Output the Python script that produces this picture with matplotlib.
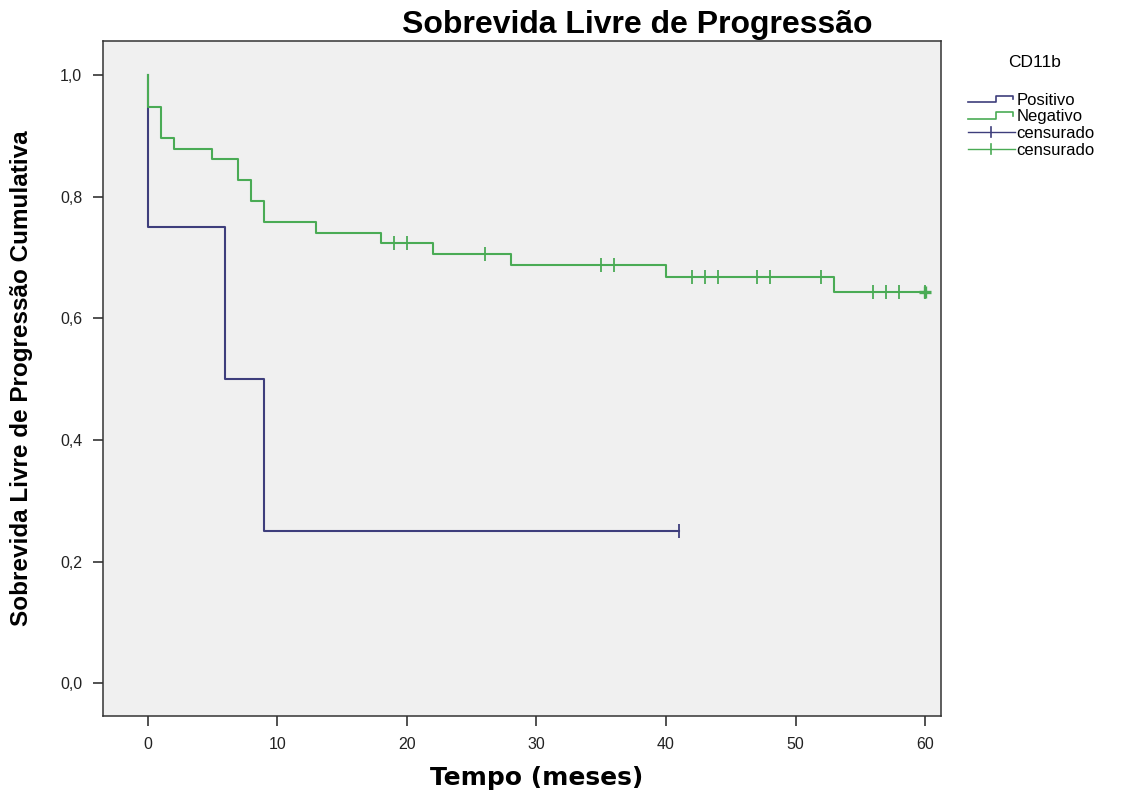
# -*- coding: utf-8 -*-
"""Kaplan-Meier curves of progression-free survival by CD11b status."""
import os
import matplotlib
matplotlib.use('Agg')
import matplotlib.pyplot as plt
from matplotlib import font_manager as fm
from matplotlib.lines import Line2D
from matplotlib.legend_handler import HandlerBase

# CD11b positive group: event times (months) and survival after each event
pos_times = [0, 6, 9]
pos_surv = [0.75, 0.50, 0.25]
pos_censored = [41]

# CD11b negative group
neg_times = [0, 1, 2, 5, 7, 8, 9, 13, 18, 22, 28, 40, 53]
neg_surv = [0.948, 0.897, 0.879, 0.862, 0.828, 0.793, 0.759, 0.741,
            0.724, 0.706, 0.688, 0.668, 0.644]
neg_censored = [19, 20, 26, 35, 36, 42, 43, 44, 47, 48, 52, 56, 57, 58, 60]

x_ticks = [0, 10, 20, 30, 40, 50, 60]
y_ticks = [0.0, 0.2, 0.4, 0.6, 0.8, 1.0]
y_tick_labels = ['0,0', '0,2', '0,4', '0,6', '0,8', '1,0']

group_labels = ['Positivo', 'Negativo']
censor_label = 'censurado'

POS_COLOR = '#3e3e7c'
NEG_COLOR = '#4aab55'


def font(file_name, size):
    """FontProperties from an installed font file, DejaVu if it is missing."""
    for f in fm.fontManager.ttflist:
        if os.path.basename(f.fname) == file_name:
            return fm.FontProperties(fname=f.fname, size=size)
    return fm.FontProperties(family='DejaVu Sans', size=size)


def surv_at(t, times, surv):
    """Value of the step function at time t."""
    s = 1.0
    for ti, si in zip(times, surv):
        if ti <= t:
            s = si
    return s


def step_xy(times, surv, t_end):
    xs = [0.0] + list(times) + [t_end]
    ys = [1.0] + list(surv) + [surv[-1]]
    return xs, ys


class StepHandler(HandlerBase):
    """Small step-shaped glyph for the legend."""
    def create_artists(self, legend, orig_handle, xdescent, ydescent,
                       width, height, fontsize, trans):
        x0, x1 = -xdescent, -xdescent + width
        lo, hi = -ydescent + 0.22 * height, -ydescent + 0.78 * height
        xm = x0 + 0.6 * width
        xs = [x0, xm, xm, x1 - 1, x1 - 1]
        ys = [lo, lo, hi, hi, hi - 0.3 * height]
        ln = Line2D(xs, ys, color=orig_handle.get_color(), lw=1.2,
                    transform=trans)
        return [ln]


class CensorHandler(HandlerBase):
    """Horizontal line with a vertical tick in the middle."""
    def create_artists(self, legend, orig_handle, xdescent, ydescent,
                       width, height, fontsize, trans):
        x0, x1 = -xdescent, -xdescent + width
        ym = -ydescent + 0.5 * height
        xm = x0 + 0.5 * width
        h = Line2D([x0, x1], [ym, ym], color=orig_handle.get_color(),
                   lw=1.0, transform=trans)
        v = Line2D([xm, xm], [ym - 0.42 * height, ym + 0.42 * height],
                   color=orig_handle.get_color(), lw=1.2, transform=trans)
        return [h, v]


def main():
    fig = plt.figure(figsize=(11.32, 7.92), dpi=100)
    ax = fig.add_axes([0.091, 0.096, 0.740, 0.852])
    ax.set_facecolor('#f0f0f0')

    xs, ys = step_xy(pos_times, pos_surv, pos_censored[-1])
    ax.step(xs, ys, where='post', color=POS_COLOR, lw=1.5)
    xs, ys = step_xy(neg_times, neg_surv, 60)
    ax.step(xs, ys, where='post', color=NEG_COLOR, lw=1.5)

    # censoring ticks
    ax.plot(pos_censored, [surv_at(t, pos_times, pos_surv) for t in pos_censored],
            ls='none', marker='|', ms=10, mew=1.3, color=POS_COLOR)
    ax.plot(neg_censored, [surv_at(t, neg_times, neg_surv) for t in neg_censored],
            ls='none', marker='|', ms=10, mew=1.3, color=NEG_COLOR)
    # several patients censored at the last follow-up
    ax.plot([60], [surv_at(60, neg_times, neg_surv)], ls='none', marker='+',
            ms=9, mew=2.4, color=NEG_COLOR)

    ax.set_xlim(-3.45, 61.2)
    ax.set_ylim(-0.054, 1.056)
    ax.set_xticks(x_ticks)
    ax.set_yticks(y_ticks)
    ax.set_yticklabels(y_tick_labels)
    ax.tick_params(direction='out', length=7, width=1.2, color='#333333',
                   labelcolor='#222222', pad=8)
    tick_font = font('LiberationSans-Regular.ttf', 11.5)
    for lbl in ax.get_xticklabels() + ax.get_yticklabels():
        lbl.set_fontproperties(tick_font)
    for sp in ax.spines.values():
        sp.set_color('#333333')
        sp.set_linewidth(1.1)

    fig.text(0.5625, 0.969, 'Sobrevida Livre de Progressão', ha='center',
             va='center', fontproperties=font('LiberationSans-Bold.ttf', 23))
    fig.text(0.474, 0.018, 'Tempo (meses)', ha='center', va='center',
             fontproperties=font('DejaVuSans-Bold.ttf', 18))
    fig.text(0.019, 0.523, 'Sobrevida Livre de Progressão Cumulativa',
             rotation=90, ha='center', va='center',
             fontproperties=font('LiberationSans-Bold.ttf', 17.5))

    fig.text(0.9135, 0.921, 'CD11b', ha='center', va='center',
             fontproperties=font('LiberationSans-Regular.ttf', 12.5))
    handles = [Line2D([], [], color=POS_COLOR), Line2D([], [], color=NEG_COLOR),
               Line2D([], [], color=POS_COLOR, marker='|'),
               Line2D([], [], color=NEG_COLOR, marker='|')]
    labels = group_labels + [censor_label, censor_label]
    hmap = {handles[0]: StepHandler(), handles[1]: StepHandler(),
            handles[2]: CensorHandler(), handles[3]: CensorHandler()}
    fig.legend(handles, labels, handler_map=hmap,
               loc='upper left', bbox_to_anchor=(0.855, 0.883),
               frameon=False, handlelength=2.8, handletextpad=0.1,
               labelspacing=0.1, borderaxespad=0, borderpad=0,
               prop=font('LiberationSans-Regular.ttf', 12))

    fig.savefig('out.png', dpi=100, facecolor='white')


if __name__ == '__main__':
    main()
